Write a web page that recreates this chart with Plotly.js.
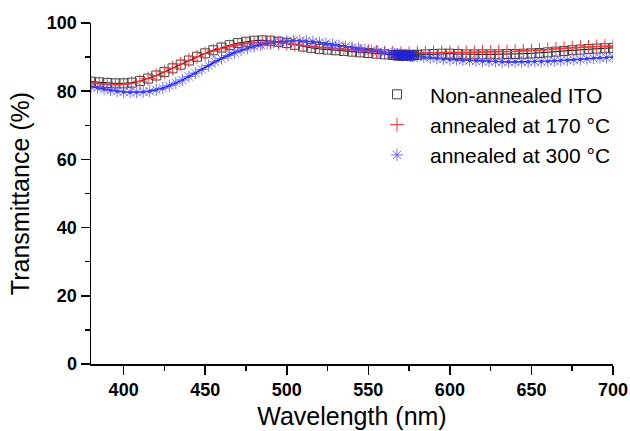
<!DOCTYPE html>
<html>
<head>
<meta charset="utf-8">
<script src="https://cdn.plot.ly/plotly-3.0.1.min.js"></script>
<style>html,body{margin:0;padding:0;background:#fff;}#chart{width:630px;height:431px;}</style>
</head>
<body>
<div id="chart"></div>
<script>
// Wavelength grid (nm) for non-annealed and 170 °C samples
const wl5 = [380,385,390,395,400,405,410,415,420,425,430,435,440,445,450,455,460,465,470,475,480,485,490,495,500,505,510,515,520,525,530,535,540,545,550,555,560,565,570,575,580,585,590,595,600,605,610,615,620,625,630,635,640,645,650,655,660,665,670,675,680,685,690,695,700];
const nonAnnealed = [82.8,82.6,82.4,82.3,82.3,82.5,83.0,83.7,84.6,85.6,86.7,87.8,89.0,90.1,91.1,92.0,92.8,93.5,94.1,94.5,94.8,94.9,94.8,94.5,94.1,93.6,93.1,92.7,92.4,92.2,92.0,91.8,91.6,91.4,91.2,91.0,90.8,90.6,90.5,90.6,90.7,90.8,90.9,91.0,91.0,90.9,90.8,90.8,90.8,90.8,90.8,90.9,90.9,91.0,91.1,91.2,91.4,91.6,91.8,92.0,92.2,92.4,92.5,92.6,92.7];
const annealed170 = [82.5,82.2,82.0,81.9,82.0,82.3,82.9,83.7,84.6,85.7,86.8,88.0,89.1,90.1,91.0,91.8,92.5,93.1,93.6,94.0,94.2,94.3,94.3,94.2,94.0,93.7,93.4,93.1,92.9,92.7,92.5,92.3,92.1,91.9,91.7,91.5,91.3,91.2,91.1,91.1,91.2,91.3,91.3,91.4,91.4,91.4,91.4,91.4,91.5,91.5,91.6,91.6,91.7,91.8,91.9,92.0,92.2,92.4,92.6,92.7,92.9,93.0,93.1,93.2,93.3];
// Wavelength grid (nm) for 300 °C sample
const wl4 = [380,384,388,392,396,400,404,408,412,416,420,424,428,432,436,440,444,448,452,456,460,464,468,472,476,480,484,488,492,496,500,504,508,512,516,520,524,528,532,536,540,544,548,552,556,560,564,568,572,576,580,584,588,592,596,600,604,608,612,616,620,624,628,632,636,640,644,648,652,656,660,664,668,672,676,680,684,688,692,696,700];
const annealed300 = [81.3,81.0,80.6,80.3,80.0,79.8,79.7,79.7,79.8,80.0,80.4,80.9,81.6,82.4,83.3,84.3,85.3,86.4,87.5,88.6,89.6,90.5,91.3,92.0,92.6,93.1,93.6,94.0,94.3,94.5,94.7,94.8,94.8,94.7,94.5,94.3,94.0,93.7,93.4,93.1,92.8,92.5,92.2,91.9,91.6,91.3,91.0,90.8,90.6,90.4,90.2,90.0,89.8,89.6,89.4,89.3,89.2,89.1,89.0,88.9,88.8,88.7,88.7,88.6,88.6,88.6,88.6,88.6,88.7,88.7,88.8,88.9,89.0,89.1,89.2,89.4,89.5,89.7,89.8,89.9,90.0];
// Dense cluster of points near the detector change
const wlDense = [566,567,568,569,570,571,572,573,574,575,576,577,578];
const denseNon = [90.6,90.6,90.5,90.5,90.6,90.5,90.4,90.6,90.5,90.6,90.6,90.5,90.6];
const dense300 = [90.8,90.8,90.7,90.7,90.6,90.6,90.6,90.7,90.5,90.5,90.4,90.4,90.4];

const names = ['Non-annealed ITO', 'annealed at 170 °C', 'annealed at 300 °C'];
const xTicks = [400,450,500,550,600,650,700];
const yTicks = [0,20,40,60,80,100];

const traces = [
  {x: wl5, y: nonAnnealed, mode: 'lines', line: {color: '#000', width: 1}, showlegend: false, hoverinfo: 'skip'},
  {x: wl5, y: annealed170, mode: 'lines', line: {color: '#ff0000', width: 1}, showlegend: false, hoverinfo: 'skip'},
  {x: wl4, y: annealed300, mode: 'lines+markers', line: {color: '#0000dd', width: 1.2}, marker: {color: '#0000dd', size: 3}, showlegend: false, hoverinfo: 'skip'},
  {x: wl5, y: nonAnnealed, mode: 'markers', name: names[0], marker: {symbol: 'square-open', size: 9, color: '#444', line: {width: 1}}},
  {x: wl5, y: annealed170, mode: 'markers', name: names[1], marker: {symbol: 'cross-thin-open', size: 10, color: '#ff3333', line: {width: 1, color: '#ff3333'}}},
  {x: wl4, y: annealed300, mode: 'markers', name: names[2], marker: {symbol: 'asterisk-open', size: 10, color: 'rgba(70,70,255,0.75)', line: {width: 1, color: 'rgba(70,70,255,0.75)'}}},
  {x: wlDense, y: denseNon, mode: 'markers', showlegend: false, marker: {symbol: 'square-open', size: 9, color: '#444', line: {width: 1}}},
  {x: wlDense, y: dense300, mode: 'lines+markers', showlegend: false, line: {color: '#0000dd', width: 1}, marker: {symbol: 'asterisk-open', size: 10, color: 'rgba(30,30,230,0.8)', line: {width: 1, color: 'rgba(30,30,230,0.8)'}}}
];

const layout = {
  width: 630, height: 431,
  margin: {l: 91, r: 17, t: 23, b: 67, pad: 0},
  paper_bgcolor: '#fff', plot_bgcolor: '#fff',
  font: {family: 'Liberation Sans, Arial, sans-serif', color: '#000'},
  xaxis: {
    range: [380, 700], tickvals: xTicks, ticktext: xTicks.map(String),
    showgrid: false, zeroline: false, showline: true, linecolor: '#000', linewidth: 1.5, mirror: false,
    ticks: 'outside', ticklen: 9, tickwidth: 1.5, tickcolor: '#000',
    minor: {tickvals: [425,475,525,575,625,675], ticks: 'outside', ticklen: 5, tickwidth: 1.5, tickcolor: '#000'},
    tickfont: {family: 'Liberation Sans, Arial, sans-serif', size: 18, weight: 'bold'},
    title: {text: 'Wavelength (nm)', font: {size: 25}, standoff: 8}
  },
  yaxis: {
    range: [0, 100], tickvals: yTicks, ticktext: yTicks.map(String),
    showgrid: false, zeroline: false, showline: true, linecolor: '#000', linewidth: 1.5, mirror: false,
    ticks: 'outside', ticklen: 9, tickwidth: 1.5, tickcolor: '#000',
    minor: {tickvals: [10,30,50,70,90], ticks: 'outside', ticklen: 5, tickwidth: 1.5, tickcolor: '#000'},
    tickfont: {family: 'Liberation Sans, Arial, sans-serif', size: 18, weight: 'bold'},
    title: {text: 'Transmittance (%)', font: {size: 25}, standoff: 10}
  },
  legend: {
    x: 0.523, y: 0.85, xanchor: 'left', yanchor: 'top',
    bgcolor: 'rgba(0,0,0,0)', borderwidth: 0,
    font: {family: 'Liberation Sans, Arial, sans-serif', size: 21},
    itemwidth: 56
  },
  showlegend: true
};

Plotly.newPlot('chart', traces, layout, {staticPlot: true, displayModeBar: false});
</script>
</body>
</html>
